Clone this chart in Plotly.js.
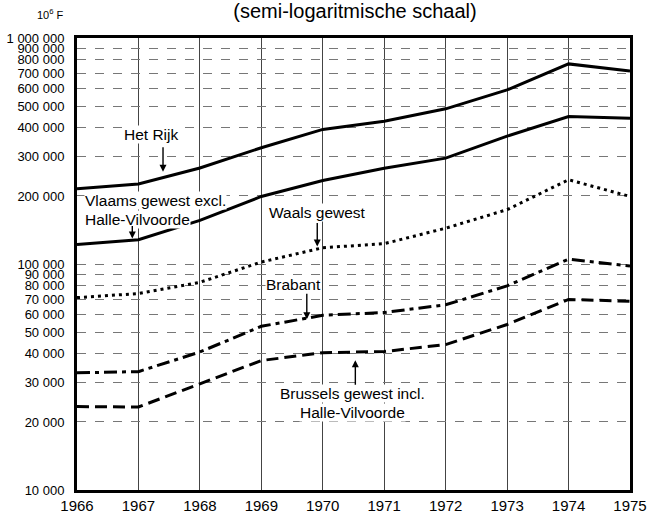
<!DOCTYPE html>
<html>
<head>
<meta charset="utf-8">
<script src="https://cdn.plot.ly/plotly-3.0.1.min.js"></script>
<style>html,body{margin:0;padding:0;background:#fff;}#chart{width:647px;height:523px;}</style>
</head>
<body>
<div id="chart"></div>
<script>
const years = [1966, 1967, 1968, 1969, 1970, 1971, 1972, 1973, 1974, 1975];
const hetRijk = [215000, 226000, 266000, 327000, 394000, 428000, 486000, 589000, 768000, 715000];
const vlaams = [122000, 128000, 156000, 199000, 234000, 265000, 294000, 368000, 449000, 442000];
const waals = [71000, 74000, 83000, 102000, 118000, 123000, 144000, 174000, 236000, 199000];
const brabant = [33000, 33400, 40800, 53000, 59300, 61000, 66000, 80000, 105000, 98000];
const brussels = [23400, 23300, 29500, 37400, 40500, 41000, 44000, 54000, 69700, 68400];
const yTickVals = [10000, 20000, 30000, 40000, 50000, 60000, 70000, 80000, 90000, 100000,
  200000, 300000, 400000, 500000, 600000, 700000, 800000, 900000, 1000000];
const yTickText = ["10 000", "20 000", "30 000", "40 000", "50 000", "60 000", "70 000", "80 000", "90 000", "100 000",
  "200 000", "300 000", "400 000", "500 000", "600 000", "700 000", "800 000", "900 000", "1 000 000"];

const FONT = "Liberation Sans, Arial, Helvetica, sans-serif";
function tr(y, dash, name) {
  return {x: years, y: y, type: 'scatter', mode: 'lines', name: name,
    line: {color: '#000', width: 3, dash: dash}, hoverinfo: 'skip'};
}
const data = [
  tr(hetRijk, 'solid', 'Het Rijk'),
  tr(vlaams, 'solid', 'Vlaams gewest'),
  tr(waals, '3px,4px', 'Waals gewest'),
  tr(brabant, '13px,5px,4px,5px', 'Brabant'),
  tr(brussels, '12px,6px', 'Brussels gewest')
];
const txt = (x, y, t, extra) => Object.assign({x: x, y: y, xref: 'x', yref: 'y', text: t, showarrow: false,
  font: {family: FONT, size: 15.5, color: '#000'}, bgcolor: '#fff', borderpad: 0}, extra || {});
const arr = (x, y, ay) => ({x: x, y: y, xref: 'x', yref: 'y', text: '', showarrow: true,
  ax: 0, ay: ay, arrowhead: 2, arrowsize: 1, arrowwidth: 1.4, arrowcolor: '#000'});
const annotations = [
  txt(1967.21, 5.572, 'Het Rijk'),
  arr(1967.40, 5.408, -26),
  txt(1966.12, 5.280, 'Vlaams gewest excl.', {xanchor: 'left'}),
  txt(1966.12, 5.196, 'Halle-Vilvoorde', {xanchor: 'left'}),
  arr(1966.90, 5.113, -14),
  txt(1969.92, 5.227, 'Waals gewest'),
  arr(1969.91, 5.077, -25),
  txt(1969.52, 4.909, 'Brabant'),
  arr(1969.74, 4.755, -27),
  txt(1970.49, 4.428, 'Brussels gewest incl.'),
  txt(1970.49, 4.344, 'Halle-Vilvoorde'),
  arr(1970.53, 4.574, 26),
  {xref: 'paper', yref: 'paper', x: (50 - 77) / 553, y: 1 + 24/452, xanchor: 'center', yanchor: 'middle',
   text: '10<sup>6</sup> F', showarrow: false, font: {family: FONT, size: 11, color: '#000'}}
];
const layout = {
  width: 647, height: 523,
  margin: {l: 77, r: 17, t: 38, b: 33},
  paper_bgcolor: '#fff', plot_bgcolor: '#fff',
  showlegend: false,
  font: {family: FONT, color: '#000'},
  title: {text: '(semi-logaritmische schaal)', x: 355/647, xanchor: 'center', y: 1 - 11/523, yanchor: 'middle',
    font: {family: FONT, size: 20, color: '#000'}},
  xaxis: {range: [1966, 1975], tickvals: years, ticktext: years.map(String), showgrid: true,
    gridcolor: '#444', gridwidth: 1, zeroline: false, showline: true, mirror: true, linecolor: '#000', linewidth: 3,
    ticks: '', tickfont: {family: FONT, size: 15, color: '#000'}, ticklabelstandoff: 0, fixedrange: true},
  yaxis: {type: 'log', range: [4, 6], tickvals: yTickVals, ticktext: yTickText, showgrid: true,
    gridcolor: '#777', gridwidth: 1, griddash: 'dash', zeroline: false, showline: true, mirror: true,
    linecolor: '#000', linewidth: 3, ticks: '', tickfont: {family: FONT, size: 13, color: '#000'},
    ticklabelstandoff: 7, fixedrange: true},
  annotations: annotations
};
Plotly.newPlot('chart', data, layout, {staticPlot: true});
</script>
</body>
</html>
